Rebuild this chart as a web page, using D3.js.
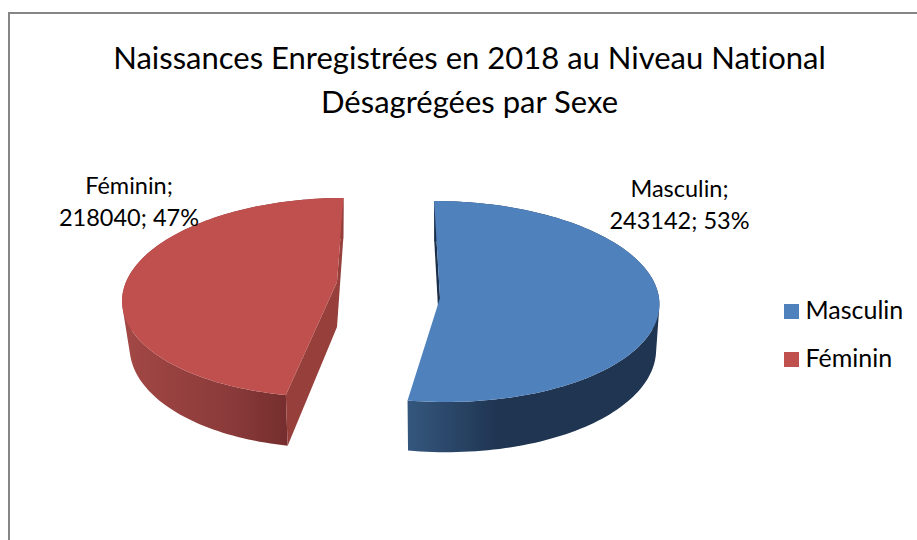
<!DOCTYPE html>
<html><head><meta charset="utf-8">
<script src="https://cdn.jsdelivr.net/npm/d3@7"></script>
<style>html,body{margin:0;padding:0;background:#fff}svg{display:block}text{font-family:Lato,"Open Sans",sans-serif;fill:#000;font-variant-ligatures:none}</style>
</head><body><svg id="c" width="917" height="540"></svg>
<script>
const categories = ["Masculin", "Féminin"];
const values = [243142, 218040];
const percents = [53, 47];
const titleLines = ["Naissances Enregistrées en 2018 au Niveau National", "Désagrégées par Sexe"];

const svg = d3.select("#c");
const colors = d3.scaleOrdinal(categories, ["#4f81bd", "#bf504d"]);

// scene geometry of each exploded slice
const scene = {
  "Masculin": {ax:440, ay:298, up:97, down:104, rx:219, lean:-6, depth:45, fx:0.985, gy:1.05,
    rim:[["#34567c",0],["#1f3552",0.35],["#1f3552",1]], rimRange:[410,660], wall:"#1b2f49", walls:[0]},
  "Féminin": {ax:337, ay:282, up:84, down:115, rx:211, lean:7.5, depth:45, fx:0.965, gy:1.05,
    rim:[["#a34845",0],["#8a3a3a",0.65],["#742e2d",1]], rimRange:[122,290], wall:"#963f3b", walls:[0,1]}
};

function project(g, angle, bottom) {
  const p = (g.down - g.up) / (g.down + g.up);
  const B = 2 * g.up * g.down / (g.up + g.down);
  const X = Math.sin(angle), Z = Math.cos(angle);
  const s = 1 / (1 + p * Z);
  const dx = (g.rx * X + g.lean * Z) * s, dy = -B * Z * s;
  return bottom ? [g.ax + dx * g.fx, g.ay + g.depth + dy * g.gy] : [g.ax + dx, g.ay + dy];
}
function arcPts(g, a0, a1, bottom) {
  const n = 120;
  return d3.range(n + 1).map(i => project(g, a0 + (a1 - a0) * i / n, bottom));
}

const pie = d3.pie().sort(null).startAngle(0).endAngle(2 * Math.PI);
const arcs = pie(values);
const defs = svg.append("defs");
const line = d3.line();

// frame
svg.append("path").attr("d", "M9,540V13H917").attr("fill", "none").attr("stroke", "#868686").attr("stroke-width", 2);

arcs.forEach((d, i) => {
  const cat = categories[i], g = scene[cat];
  const grad = defs.append("linearGradient").attr("id", "rim" + i).attr("gradientUnits", "userSpaceOnUse")
    .attr("x1", g.rimRange[0]).attr("x2", g.rimRange[1]).attr("y1", 0).attr("y2", 0);
  g.rim.forEach(s => grad.append("stop").attr("offset", s[1]).attr("stop-color", s[0]));

  const top = arcPts(g, d.startAngle, d.endAngle, false);
  const bot = arcPts(g, d.startAngle, d.endAngle, true);
  const apexT = [g.ax, g.ay], apexB = [g.ax, g.ay + g.depth];

  // outer rim: union of small quads so that the silhouette stays tangent
  const quads = d3.range(top.length - 1).map(k => {
    const q = [top[k], top[k + 1], bot[k + 1], bot[k]];
    return d3.polygonArea(q) < 0 ? q.reverse() : q;
  });
  svg.append("path").attr("d", quads.map(q => line(q) + "Z").join("")).attr("fill", `url(#rim${i})`);
  // cut walls
  const ends = [[top[0], bot[0]], [top[top.length - 1], bot[bot.length - 1]]];
  g.walls.forEach(w => {
    svg.append("path").attr("d", line([ends[w][0], ends[w][1], apexB, apexT]) + "Z").attr("fill", g.wall);
  });
  // top face
  svg.append("path").attr("d", line(top.concat([apexT])) + "Z").attr("fill", colors(cat));
});

// title
svg.append("g").selectAll("text").data(titleLines).join("text")
  .attr("x", 469.5).attr("y", (d, i) => 69 + i * 44).attr("text-anchor", "middle")
  .attr("font-size", 31).text(d => d);

// data labels
const labelPos = {"Masculin": [679.5, 197], "Féminin": [129, 194]};
categories.forEach((c, i) => {
  const t = svg.append("text").attr("text-anchor", "middle").attr("font-size", 23.5);
  [c + ";", `${values[i]}; ${percents[i]}%`].forEach((s, j) => {
    t.append("tspan").attr("x", labelPos[c][0]).attr("y", labelPos[c][1] + j * 32).text(s);
  });
});

// legend
const leg = svg.append("g").selectAll("g").data(categories).join("g")
  .attr("transform", (d, i) => `translate(784,${304 + i * 48})`);
leg.append("rect").attr("width", 15).attr("height", 15).attr("fill", d => colors(d));
leg.append("text").attr("x", 21.5).attr("y", 15).attr("font-size", 25).text(d => d);
</script></body></html>
